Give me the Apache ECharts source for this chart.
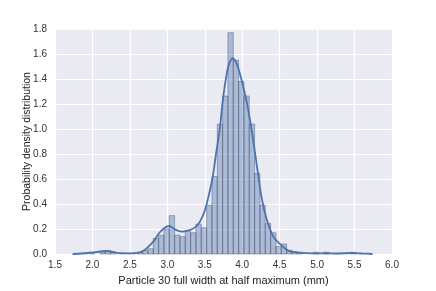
<!DOCTYPE html>
<html>
<head>
<meta charset="utf-8">
<script src="https://cdn.jsdelivr.net/npm/echarts@6/dist/echarts.min.js"></script>
<style>html,body{margin:0;padding:0;background:#fff}#c{width:436px;height:291px}</style>
</head>
<body>
<div id="c"></div>
<script>
// Histogram: uniform bins starting at firstEdge, width binWidth
const firstEdge = 1.958;
const binWidth = 0.0712;
const densities = [
  0.014, 0, 0.014, 0.028, 0.014, 0, 0, 0, 0, 0.014,
  0.028, 0.042, 0.125, 0.15, 0.2, 0.307, 0.152, 0.139, 0.19, 0.17,
  0.24, 0.21, 0.39, 0.62, 1.04, 1.264, 1.77, 1.55, 1.38, 1.264,
  1.04, 0.645, 0.39, 0.245, 0.17, 0.06, 0.08, 0.03, 0.02, 0.014,
  0, 0, 0.014, 0, 0.014, 0, 0, 0, 0, 0.014
];
// KDE curve
const kdeX = [1.736, 1.85, 1.968, 2.08, 2.168, 2.234, 2.30, 2.368, 2.5, 2.6, 2.68, 2.746, 2.79, 2.835, 2.87, 2.91, 2.96, 3.026, 3.1, 3.19, 3.28, 3.37, 3.436, 3.503, 3.57, 3.61, 3.65, 3.70, 3.747, 3.813, 3.872, 3.925, 3.992, 4.059, 4.126, 4.192, 4.259, 4.326, 4.415, 4.504, 4.615, 4.749, 4.95, 5.1, 5.25, 5.48, 5.6, 5.74];
const kdeY = [0.0, 0.004, 0.01, 0.018, 0.024, 0.021, 0.013, 0.006, 0.005, 0.009, 0.026, 0.058, 0.085, 0.115, 0.15, 0.18, 0.208, 0.224, 0.197, 0.179, 0.187, 0.213, 0.259, 0.352, 0.512, 0.63, 0.8, 1.0, 1.259, 1.5, 1.566, 1.525, 1.39, 1.218, 0.99, 0.72, 0.45, 0.28, 0.139, 0.08, 0.027, 0.011, 0.005, 0.006, 0.004, 0.008, 0.004, 0.0];
const xTicks = [1.5, 6.0, 0.5];   // min, max, step
const yTicks = [0.0, 1.8, 0.2];

const histData = densities.map((d, i) => [firstEdge + i * binWidth, firstEdge + (i + 1) * binWidth, d]);
const kdeData = kdeX.map((x, i) => [x, kdeY[i]]);

const chart = echarts.init(document.getElementById('c'), null, {renderer: 'canvas'});
const font = 'Liberation Sans, Arial, sans-serif';
chart.setOption({
  animation: false,
  grid: {left: 55, right: 44, top: 29, bottom: 37, show: true, backgroundColor: '#EAEAF2', borderWidth: 0},
  xAxis: {
    type: 'value', min: xTicks[0], max: xTicks[1], interval: xTicks[2],
    axisLine: {show: false}, axisTick: {show: false},
    splitLine: {show: true, lineStyle: {color: '#ffffff', width: 1.2}},
    axisLabel: {color: '#333', fontSize: 10, fontFamily: font, margin: 6, formatter: v => v.toFixed(1)},
    name: 'Particle 30 full width at half maximum (mm)', nameLocation: 'middle', nameGap: 21,
    nameMoveOverlap: false,
    nameTextStyle: {color: '#222', fontSize: 11, fontFamily: font}
  },
  yAxis: {
    type: 'value', min: yTicks[0], max: yTicks[1], interval: yTicks[2],
    axisLine: {show: false}, axisTick: {show: false},
    splitLine: {show: true, lineStyle: {color: '#ffffff', width: 1.2}},
    axisLabel: {color: '#333', fontSize: 10, fontFamily: font, margin: 8, formatter: v => v.toFixed(1)},
    name: 'Probability density distribution', nameLocation: 'middle', nameGap: 22,
    nameMoveOverlap: false,
    nameTextStyle: {color: '#222', fontSize: 10.5, fontFamily: font}
  },
  series: [
    {
      type: 'custom', data: histData, encode: {x: [0, 1], y: 2},
      renderItem: (params, api) => {
        const h = api.value(2);
        if (!h) return null;
        const p0 = api.coord([api.value(0), 0]);
        const p1 = api.coord([api.value(1), h]);
        return {
          type: 'rect',
          shape: {x: p0[0], y: p1[1], width: p1[0] - p0[0], height: p0[1] - p1[1]},
          style: {fill: 'rgba(76,114,176,0.4)', stroke: 'rgba(70,80,100,0.55)', lineWidth: 0.8}
        };
      },
      z: 2
    },
    {
      type: 'line', data: kdeData, smooth: 0.3, showSymbol: false,
      lineStyle: {color: '#4C72B0', width: 1.8}, z: 3
    }
  ]
});
</script>
</body>
</html>
